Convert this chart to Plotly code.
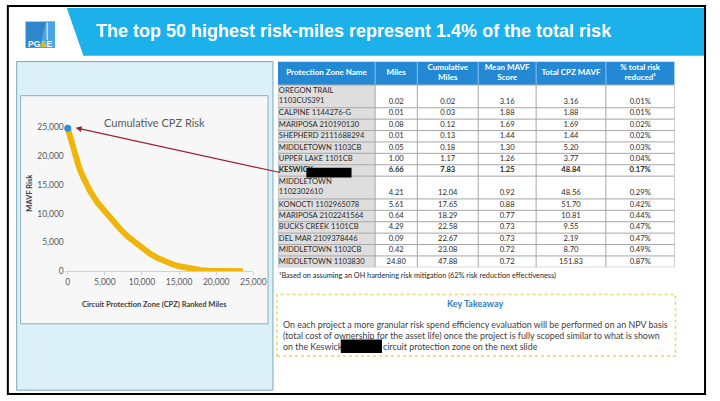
import plotly.graph_objects as go

W, H = 720, 401

# ---------------- chart data ----------------
curve_miles = [0, 500, 1000, 1500, 2000, 2500, 3000, 4000, 5000, 6000, 7000, 8000,
               9000, 10000, 11000, 12000, 13000, 14000, 15000, 16000, 17000, 18000,
               19000, 20000, 21000, 22000, 23000, 23600]
curve_risk = [24800, 22300, 19900, 18100, 16500, 15100, 13900, 11900, 10300, 8800, 7400, 6100,
              5000, 4000, 3100, 2350, 1750, 1250, 850, 550, 320, 170,
              80, 35, 15, 6, 2, 0]
x_ticks = [0, 5000, 10000, 15000, 20000, 25000]
y_ticks = [0, 5000, 10000, 15000, 20000, 25000]

# ---------------- table data ----------------
header_labels = ["Protection Zone Name", "Miles", "Cumulative<br>Miles", "Mean MAVF<br>Score",
                 "Total CPZ MAVF", "% total risk<br>reduced¹"]
zone_names = ["OREGON TRAIL<br>1103CUS391", "CALPINE 1144276-G", "MARIPOSA 210190130",
              "SHEPHERD 2111688294", "MIDDLETOWN 1103CB", "UPPER LAKE 1101CB", "KESWICK",
              "MIDDLETOWN<br>1102302610", "KONOCTI 1102965078", "MARIPOSA 2102241564",
              "BUCKS CREEK 1101CB", "DEL MAR 2109378446", "MIDDLETOWN 1102CB",
              "MIDDLETOWN 1103830"]
miles = ["0.02", "0.01", "0.08", "0.01", "0.05", "1.00", "6.66", "4.21", "5.61", "0.64",
         "4.29", "0.09", "0.42", "24.80"]
cumulative_miles = ["0.02", "0.03", "0.12", "0.13", "0.18", "1.17", "7.83", "12.04", "17.65",
                    "18.29", "22.58", "22.67", "23.08", "47.88"]
mean_mavf = ["3.16", "1.88", "1.69", "1.44", "1.30", "1.26", "1.25", "0.92", "0.88", "0.77",
             "0.73", "0.73", "0.72", "0.72"]
total_mavf = ["3.16", "1.88", "1.69", "1.44", "5.20", "3.77", "48.84", "48.56", "51.70",
              "10.81", "9.55", "2.19", "8.70", "151.83"]
pct_reduced = ["0.01%", "0.01%", "0.02%", "0.02%", "0.03%", "0.04%", "0.17%", "0.29%",
               "0.42%", "0.44%", "0.47%", "0.47%", "0.49%", "0.87%"]
highlight_row = 6  # KESWICK row in bold

FONT = "Lato"

# table geometry (layout, not data)
col_w = [99, 43, 62, 59, 71, 70]
TX0, TY0, HEAD_H, LINE_H = 283, 58, 24, 11.69


def px(x):
    return x / W


def py(y):
    return 1 - y / H


edges = [TX0]
for w in col_w:
    edges.append(edges[-1] + w)
centers = [(edges[i] + edges[i + 1]) / 2 for i in range(len(col_w))]
n_lines = [n.count("<br>") + 1 for n in zone_names]
row_top = []
yy = TY0 + HEAD_H
for n in n_lines:
    row_top.append(yy)
    yy += n * LINE_H
TY1 = yy


def bold_row(vals):
    return ["<b>" + v + "</b>" if i == highlight_row else v for i, v in enumerate(vals)]


fig = go.Figure()

# ---------------- cumulative risk curve ----------------
fig.add_trace(go.Scatter(x=curve_miles, y=curve_risk, mode="lines",
                         line=dict(color="#efb50a", width=6), cliponaxis=False,
                         hoverinfo="skip", showlegend=False))
fig.add_trace(go.Scatter(x=curve_miles[:1], y=curve_risk[:1], mode="markers",
                         marker=dict(color="#2a8fe0", size=7), cliponaxis=False,
                         hoverinfo="skip", showlegend=False))

# ---------------- table text (on its own axis pair) ----------------
TFONT = dict(family=FONT, size=7.6, color="#2b2b2b")
fig.add_trace(go.Scatter(
    x=centers, y=[TY0 + HEAD_H / 2] * len(centers), mode="text",
    text=["<b>" + h + "</b>" for h in header_labels], textposition="middle center",
    textfont=dict(family=FONT, size=8, color="white"), xaxis="x2", yaxis="y2",
    cliponaxis=False, hoverinfo="skip", showlegend=False))
fig.add_trace(go.Scatter(
    x=[edges[0] + 1] * len(zone_names),
    y=[row_top[i] + n_lines[i] * LINE_H / 2 for i in range(len(zone_names))],
    mode="text", text=bold_row(zone_names), textposition="middle right", textfont=TFONT,
    xaxis="x2", yaxis="y2", cliponaxis=False, hoverinfo="skip", showlegend=False))
for ci, col in enumerate([miles, cumulative_miles, mean_mavf, total_mavf, pct_reduced], start=1):
    fig.add_trace(go.Scatter(
        x=[centers[ci]] * len(col),
        y=[row_top[i] + (n_lines[i] - 0.5) * LINE_H for i in range(len(col))],
        mode="text", text=bold_row(col), textposition="middle center", textfont=TFONT,
        xaxis="x2", yaxis="y2", cliponaxis=False, hoverinfo="skip", showlegend=False))

# ---------------- shapes ----------------
shapes = [
    # banner
    dict(type="path", path=(f"M {px(68)},{py(3)} L {px(718)},{py(3)} L {px(718)},{py(52)} "
                            f"L {px(85)},{py(52)} Z"),
         xref="paper", yref="paper", fillcolor="#1db1ec", line=dict(width=0), layer="below"),
    # left panel
    dict(type="rect", x0=px(17), x1=px(278), y0=py(395), y1=py(58), xref="paper", yref="paper",
         fillcolor="#dcf0f9", line=dict(color="#7ba7ba", width=1), layer="below"),
    dict(type="rect", x0=px(21), x1=px(273), y0=py(327), y1=py(93), xref="paper", yref="paper",
         fillcolor="#f7f7f7", line=dict(color="#8aaebd", width=1), layer="below"),
    # logo
    dict(type="rect", x0=px(26), x1=px(56), y0=py(44), y1=py(17), xref="paper", yref="paper",
         fillcolor="#2f86cc", line=dict(width=0), layer="below"),
    dict(type="path", path=(f"M {px(47)},{py(17)} L {px(56)},{py(17)} L {px(56)},{py(44)} "
                            f"L {px(40)},{py(44)} Z"),
         xref="paper", yref="paper", fillcolor="#4aa6e2", line=dict(width=0), layer="below"),
    dict(type="line", x0=px(48), x1=px(48), y0=py(36), y1=py(18), xref="paper", yref="paper",
         line=dict(color="white", width=1), layer="below"),
    # table header fill
    dict(type="rect", x0=edges[0], x1=edges[-1], y0=TY0, y1=TY0 + HEAD_H, xref="x2", yref="y2",
         fillcolor="#2389d4", line=dict(width=0), layer="below"),
]
# name column fills
for i in range(len(zone_names)):
    shapes.append(dict(type="rect", x0=edges[0], x1=edges[1], y0=row_top[i],
                       y1=row_top[i] + n_lines[i] * LINE_H, xref="x2", yref="y2",
                       fillcolor="#dedede", line=dict(width=0), layer="below"))
# header separators
for e in edges[1:-1]:
    shapes.append(dict(type="line", x0=e, x1=e, y0=TY0, y1=TY0 + HEAD_H, xref="x2", yref="y2",
                       line=dict(color="#8cc4ea", width=1), layer="below"))
# body grid
for t in row_top + [TY1]:
    shapes.append(dict(type="line", x0=edges[0], x1=edges[-1], y0=t, y1=t, xref="x2", yref="y2",
                       line=dict(color="#a6a6a6", width=1), layer="below"))
for e in edges:
    shapes.append(dict(type="line", x0=e, x1=e, y0=TY0 + HEAD_H, y1=TY1, xref="x2", yref="y2",
                       line=dict(color="#a6a6a6", width=1), layer="below"))
shapes += [
    # key takeaway box
    dict(type="rect", x0=px(282), x1=px(688), y0=py(360), y1=py(297), xref="paper", yref="paper",
         fillcolor="rgba(0,0,0,0)", line=dict(color="#ecd46a", width=1.5, dash="dot")),
    # redactions
    dict(type="rect", x0=px(312), x1=px(358), y0=py(177), y1=py(167), xref="paper", yref="paper",
         fillcolor="black", line=dict(width=0), layer="above"),
    dict(type="rect", x0=px(347), x1=px(389), y0=py(357), y1=py(343), xref="paper", yref="paper",
         fillcolor="black", line=dict(width=0), layer="above"),
    # outer frame
    dict(type="rect", x0=px(8), x1=px(718), y0=py(399), y1=py(1), xref="paper", yref="paper",
         fillcolor="rgba(0,0,0,0)", line=dict(color="black", width=2)),
]


def ann(text, x, y, size, color, xanchor="center", yanchor="middle", **kw):
    return dict(text=text, x=px(x), y=py(y), xref="paper", yref="paper", xanchor=xanchor,
                yanchor=yanchor, showarrow=False,
                font=dict(family=kw.pop("family", FONT), size=size, color=color), **kw)


BODY = "#404040"
annotations = [
    ann("<b>The top 50 highest risk-miles represent 1.4% of the total risk</b>", 96, 27, 18,
        "white", xanchor="left", family="Liberation Sans"),
    ann("<b>PG<span style='color:#f6c500'>&</span>E</b>", 41, 40, 8.5, "white",
        family="Liberation Sans"),
    ann("Cumulative CPZ Risk", 157, 121, 11, "#595959"),
    ann("<b>MAVF Risk</b>", 30, 192, 7.5, "#404040", textangle=-90),
    ann("<b>Circuit Protection Zone (CPZ) Ranked Miles</b>", 157, 307, 7.5, "#404040"),
    ann("¹Based on assuming an OH hardening risk mitigation (62% risk reduction effectiveness)",
        282, 277, 7.3, "#262626", xanchor="left"),
    ann("<b>Key Takeaway</b>", 484, 306, 9, "#2e7dc0"),
    ann("On each project a more granular risk spend efficiency evaluation will be performed on an NPV basis",
        286, 328, 8.9, BODY, xanchor="left"),
    ann("(total cost of ownership for the asset life) once the project is fully scoped similar to what is shown",
        286, 339, 8.9, BODY, xanchor="left"),
    ann("on the Keswick", 286, 350, 8.9, BODY, xanchor="left"),
    ann("circuit protection zone on the next slide", 388, 350, 8.9, BODY, xanchor="left"),
    # arrow from the table row to the first point of the curve
    dict(x=px(77), y=py(126), xref="paper", yref="paper", ax=206, ay=45, text="",
         showarrow=True, arrowhead=2, arrowsize=1, arrowwidth=1.2, arrowcolor="#9b2335"),
]

fig.update_layout(
    width=W, height=H, margin=dict(l=0, r=0, t=0, b=0),
    paper_bgcolor="white", plot_bgcolor="rgba(0,0,0,0)",
    shapes=shapes, annotations=annotations, showlegend=False,
    xaxis=dict(domain=[px(66), px(258)], range=[-400, 25000], tickvals=x_ticks,
               tickformat=",", showgrid=False, zeroline=False, showline=True,
               linecolor="#d0d0d0", linewidth=1, ticks="outside", ticklen=3,
               tickcolor="#d0d0d0", tickfont=dict(family=FONT, size=8.5, color="#595959"),
               fixedrange=True),
    yaxis=dict(domain=[py(273), py(125.3)], range=[0, 25000], tickvals=y_ticks,
               tickformat=",", showgrid=False, zeroline=False, showline=False,
               ticks="", tickfont=dict(family=FONT, size=8.5, color="#595959"),
               fixedrange=True),
    xaxis2=dict(domain=[px(TX0), px(edges[-1])], range=[TX0, edges[-1]], visible=False,
                anchor="y2", fixedrange=True),
    yaxis2=dict(domain=[py(TY1), py(TY0)], range=[TY1, TY0], visible=False,
                anchor="x2", fixedrange=True),
)

fig.write_html("out.html", config={"displayModeBar": False},
               post_script="document.body.style.margin='0';document.body.style.overflow='hidden';")
